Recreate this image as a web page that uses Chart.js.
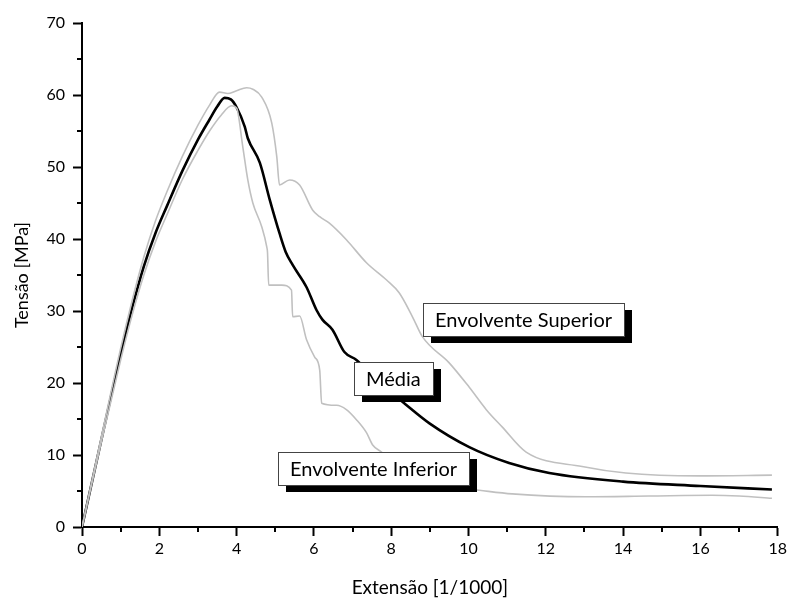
<!DOCTYPE html>
<html>
<head>
<meta charset="utf-8">
<script src="https://cdn.jsdelivr.net/npm/chart.js@4.4.1/dist/chart.umd.min.js"></script>
<style>
  html, body { margin: 0; padding: 0; background: #fff; }
  #wrap { width: 790px; height: 601px; position: relative; }
</style>
</head>
<body>
<div id="wrap"><canvas id="c" width="790" height="601"></canvas></div>
<script>
// ---- Data (strain [1/1000], stress [MPa]) ----
const mediaX = [0, 0.5, 1.0, 1.3, 1.6, 1.9, 2.2, 2.6, 3.0, 3.3, 3.5, 3.69, 3.85, 4.0, 4.21, 4.29, 4.6, 4.86, 5.11, 5.27, 5.45, 5.81, 6.07, 6.22, 6.48, 6.79, 7.1, 7.7, 8.29, 8.99, 10.02, 11.05, 12.09, 14.0, 16.0, 17.85];
const mediaY = [0, 12.1, 24.0, 30.5, 36.2, 40.8, 44.6, 49.5, 53.8, 56.6, 58.4, 59.6, 59.4, 58.3, 55.6, 54.0, 50.6, 45.4, 40.8, 38.2, 36.4, 33.3, 30.1, 28.8, 27.4, 24.3, 23.2, 20.0, 17.4, 14.4, 11.1, 8.9, 7.5, 6.3, 5.7, 5.2];

const supX = [0, 0.5, 1.0, 1.3, 1.6, 1.9, 2.2, 2.6, 3.0, 3.3, 3.56, 3.77, 4.0, 4.26, 4.42, 4.65, 4.91, 5.04, 5.11, 5.37, 5.63, 5.97, 6.15, 6.4, 6.84, 7.36, 7.88, 8.21, 8.55, 8.81, 9.5, 10.02, 10.46, 10.87, 11.49, 12.94, 14.07, 15.96, 17.85];
const supY = [0, 12.5, 24.8, 31.5, 37.5, 42.5, 46.6, 51.5, 55.8, 58.6, 60.4, 60.2, 60.6, 61.0, 60.8, 59.7, 56.1, 51.4, 47.5, 48.2, 47.5, 44.0, 43.1, 42.2, 39.9, 36.7, 34.3, 32.5, 29.2, 26.4, 22.8, 19.4, 16.3, 13.9, 10.4, 8.4, 7.5, 7.1, 7.2];

const infX = [0, 0.5, 1.0, 1.3, 1.6, 1.9, 2.2, 2.6, 3.0, 3.3, 3.6, 3.87, 4.0, 4.16, 4.29, 4.42, 4.65, 4.78, 4.8, 4.83, 5.17, 5.42, 5.45, 5.63, 5.81, 6.02, 6.15, 6.2, 6.59, 6.84, 7.1, 7.36, 7.52, 7.75, 8.5, 9.5, 10.28, 11.13, 13.04, 14.67, 16.3, 17.0, 17.85];
const infY = [0, 11.8, 23.2, 29.5, 35.0, 39.6, 43.4, 48.3, 52.3, 55.0, 57.2, 58.5, 58.2, 52.8, 48.2, 45.0, 41.7, 38.9, 38.1, 33.6, 33.6, 32.9, 29.2, 29.3, 26.0, 23.6, 21.8, 17.2, 16.9, 16.3, 14.9, 13.1, 11.4, 10.4, 7.0, 5.6, 5.1, 4.6, 4.2, 4.3, 4.4, 4.3, 4.0];

const seriesNames = ['Envolvente Superior', 'Envolvente Inferior', 'Média'];
const xTickValues = [0, 2, 4, 6, 8, 10, 12, 14, 16, 18];
const yTickValues = [0, 10, 20, 30, 40, 50, 60, 70];
const xTitle = 'Extensão [1/1000]';
const yTitle = 'Tensão [MPa]';

// annotation label anchors (left/top of box, in data units)
const labelAnchors = [
  { text: 'Envolvente Superior', x: 8.81, y: 31.1 },
  { text: 'Média', x: 7.05, y: 22.9 },
  { text: 'Envolvente Inferior', x: 5.06, y: 10.4 }
];

const toPts = (xs, ys) => xs.map((x, i) => ({ x: x, y: ys[i] }));

const FONT = 'Lato, "Open Sans", sans-serif';

const minorTicks = {
  id: 'minorTicks',
  afterDraw(chart) {
    const ctx = chart.ctx;
    const xs = chart.scales.x, ys = chart.scales.y;
    ctx.save();
    ctx.strokeStyle = '#000';
    ctx.lineWidth = 2;
    ctx.beginPath();
    for (let v = 1; v < 18; v += 2) {
      const px = Math.round(xs.getPixelForValue(v));
      ctx.moveTo(px, ys.bottom);
      ctx.lineTo(px, ys.bottom + 5);
    }
    for (let v = 5; v < 70; v += 10) {
      const py = Math.round(ys.getPixelForValue(v));
      ctx.moveTo(xs.left, py);
      ctx.lineTo(xs.left - 5, py);
    }
    ctx.stroke();
    ctx.restore();
  }
};

const boxLabels = {
  id: 'boxLabels',
  afterDatasetsDraw(chart) {
    const ctx = chart.ctx;
    const xs = chart.scales.x, ys = chart.scales.y;
    ctx.save();
    ctx.font = '20px ' + FONT;
    ctx.textBaseline = 'middle';
    ctx.textAlign = 'left';
    labelAnchors.forEach(l => {
      const left = Math.round(xs.getPixelForValue(l.x));
      const top = Math.round(ys.getPixelForValue(l.y));
      const w = Math.round(ctx.measureText(l.text).width + 24);
      const h = 33;
      ctx.fillStyle = '#000';
      ctx.fillRect(left + 8, top + 7, w, h);
      ctx.fillStyle = '#fff';
      ctx.fillRect(left, top, w, h);
      ctx.strokeStyle = '#444';
      ctx.lineWidth = 1;
      ctx.strokeRect(left + 0.5, top + 0.5, w, h);
      ctx.fillStyle = '#000';
      ctx.fillText(l.text, left + 12, top + h / 2 + 1);
    });
    ctx.restore();
  }
};

new Chart(document.getElementById('c'), {
  type: 'line',
  data: {
    datasets: [
      { label: seriesNames[0], data: toPts(supX, supY), borderColor: '#c0c0c0', borderWidth: 1.6, pointRadius: 0, cubicInterpolationMode: 'monotone', fill: false },
      { label: seriesNames[1], data: toPts(infX, infY), borderColor: '#c0c0c0', borderWidth: 1.6, pointRadius: 0, cubicInterpolationMode: 'monotone', fill: false },
      { label: seriesNames[2], data: toPts(mediaX, mediaY), borderColor: '#000', borderWidth: 2.6, pointRadius: 0, cubicInterpolationMode: 'monotone', fill: false }
    ]
  },
  options: {
    responsive: false,
    animation: false,
    layout: { padding: { left: 0, right: 11, top: 23, bottom: 0 } },
    plugins: { legend: { display: false }, tooltip: { enabled: false } },
    scales: {
      x: {
        type: 'linear', min: 0, max: 18,
        afterBuildTicks: s => { s.ticks = xTickValues.map(v => ({ value: v })); },
        afterFit: s => { s.height = 74; },
        border: { color: '#000', width: 2 },
        grid: { drawOnChartArea: false, color: '#000', tickLength: 9, tickWidth: 2 },
        ticks: { color: '#000', font: { family: FONT, size: 16 }, padding: 3, maxRotation: 0 },
        title: { display: true, text: xTitle, color: '#000', font: { family: FONT, size: 19 }, padding: { top: 0, bottom: 2 } }
      },
      y: {
        type: 'linear', min: 0, max: 70,
        afterBuildTicks: s => { s.ticks = yTickValues.map(v => ({ value: v })); },
        afterFit: s => { s.width = 82; },
        border: { color: '#000', width: 2 },
        grid: { drawOnChartArea: false, color: '#000', tickLength: 9, tickWidth: 2 },
        ticks: { color: '#000', font: { family: FONT, size: 16 }, padding: 8 },
        title: { display: true, text: yTitle, color: '#000', font: { family: FONT, size: 18 }, padding: { top: 11, bottom: 0 } }
      }
    }
  },
  plugins: [minorTicks, boxLabels]
});
</script>
</body>
</html>
